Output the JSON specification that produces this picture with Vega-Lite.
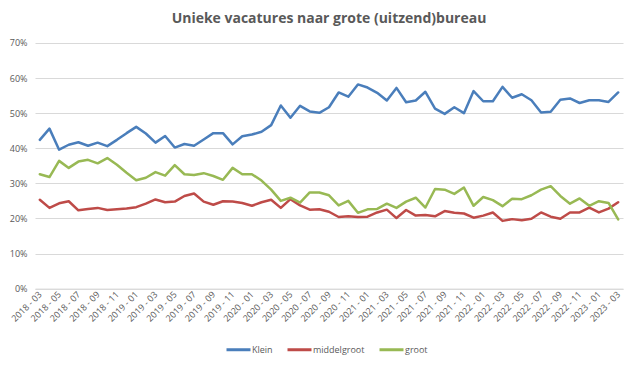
{
  "$schema": "https://vega.github.io/schema/vega-lite/v6.json",
  "autosize": "none",
  "width": 588,
  "height": 245.6,
  "padding": {"left": 35, "top": 43, "right": 17, "bottom": 76},
  "background": "white",
  "title": {"text": "Unieke vacatures naar grote (uitzend)bureau", "font": "Open Sans", "fontSize": 14, "fontWeight": "bold", "color": "#595959", "anchor": "middle", "offset": 13, "frame": "group"},
  "config": {"view": {"stroke": null}, "font": "Open Sans"},
  "data": {"values": [
{"m":"2018 - 03","s":"Klein","v":0.424},{"m":"2018 - 04","s":"Klein","v":0.456},{"m":"2018 - 05","s":"Klein","v":0.396},{"m":"2018 - 06","s":"Klein","v":0.410},{"m":"2018 - 07","s":"Klein","v":0.417},{"m":"2018 - 08","s":"Klein","v":0.407},{"m":"2018 - 09","s":"Klein","v":0.416},{"m":"2018 - 10","s":"Klein","v":0.406},{"m":"2018 - 11","s":"Klein","v":0.424},{"m":"2018 - 12","s":"Klein","v":0.443},
{"m":"2019 - 01","s":"Klein","v":0.461},{"m":"2019 - 02","s":"Klein","v":0.442},{"m":"2019 - 03","s":"Klein","v":0.416},{"m":"2019 - 04","s":"Klein","v":0.435},{"m":"2019 - 05","s":"Klein","v":0.402},{"m":"2019 - 06","s":"Klein","v":0.412},{"m":"2019 - 07","s":"Klein","v":0.407},{"m":"2019 - 08","s":"Klein","v":0.425},{"m":"2019 - 09","s":"Klein","v":0.443},{"m":"2019 - 10","s":"Klein","v":0.443},{"m":"2019 - 11","s":"Klein","v":0.411},{"m":"2019 - 12","s":"Klein","v":0.434},
{"m":"2020 - 01","s":"Klein","v":0.439},{"m":"2020 - 02","s":"Klein","v":0.447},{"m":"2020 - 03","s":"Klein","v":0.466},{"m":"2020 - 04","s":"Klein","v":0.522},{"m":"2020 - 05","s":"Klein","v":0.487},{"m":"2020 - 06","s":"Klein","v":0.521},{"m":"2020 - 07","s":"Klein","v":0.505},{"m":"2020 - 08","s":"Klein","v":0.501},{"m":"2020 - 09","s":"Klein","v":0.517},{"m":"2020 - 10","s":"Klein","v":0.559},{"m":"2020 - 11","s":"Klein","v":0.547},{"m":"2020 - 12","s":"Klein","v":0.582},
{"m":"2021 - 01","s":"Klein","v":0.573},{"m":"2021 - 02","s":"Klein","v":0.558},{"m":"2021 - 03","s":"Klein","v":0.536},{"m":"2021 - 04","s":"Klein","v":0.572},{"m":"2021 - 05","s":"Klein","v":0.531},{"m":"2021 - 06","s":"Klein","v":0.536},{"m":"2021 - 07","s":"Klein","v":0.561},{"m":"2021 - 08","s":"Klein","v":0.513},{"m":"2021 - 09","s":"Klein","v":0.498},{"m":"2021 - 10","s":"Klein","v":0.517},{"m":"2021 - 11","s":"Klein","v":0.500},{"m":"2021 - 12","s":"Klein","v":0.563},
{"m":"2022 - 01","s":"Klein","v":0.534},{"m":"2022 - 02","s":"Klein","v":0.534},{"m":"2022 - 03","s":"Klein","v":0.575},{"m":"2022 - 04","s":"Klein","v":0.544},{"m":"2022 - 05","s":"Klein","v":0.554},{"m":"2022 - 06","s":"Klein","v":0.537},{"m":"2022 - 07","s":"Klein","v":0.502},{"m":"2022 - 08","s":"Klein","v":0.504},{"m":"2022 - 09","s":"Klein","v":0.538},{"m":"2022 - 10","s":"Klein","v":0.542},{"m":"2022 - 11","s":"Klein","v":0.529},{"m":"2022 - 12","s":"Klein","v":0.537},
{"m":"2023 - 01","s":"Klein","v":0.537},{"m":"2023 - 02","s":"Klein","v":0.532},{"m":"2023 - 03","s":"Klein","v":0.559},
{"m":"2018 - 03","s":"middelgroot","v":0.253},{"m":"2018 - 04","s":"middelgroot","v":0.230},{"m":"2018 - 05","s":"middelgroot","v":0.243},{"m":"2018 - 06","s":"middelgroot","v":0.249},{"m":"2018 - 07","s":"middelgroot","v":0.223},{"m":"2018 - 08","s":"middelgroot","v":0.227},{"m":"2018 - 09","s":"middelgroot","v":0.230},{"m":"2018 - 10","s":"middelgroot","v":0.224},{"m":"2018 - 11","s":"middelgroot","v":0.226},{"m":"2018 - 12","s":"middelgroot","v":0.228},
{"m":"2019 - 01","s":"middelgroot","v":0.232},{"m":"2019 - 02","s":"middelgroot","v":0.242},{"m":"2019 - 03","s":"middelgroot","v":0.254},{"m":"2019 - 04","s":"middelgroot","v":0.246},{"m":"2019 - 05","s":"middelgroot","v":0.248},{"m":"2019 - 06","s":"middelgroot","v":0.264},{"m":"2019 - 07","s":"middelgroot","v":0.271},{"m":"2019 - 08","s":"middelgroot","v":0.248},{"m":"2019 - 09","s":"middelgroot","v":0.239},{"m":"2019 - 10","s":"middelgroot","v":0.249},{"m":"2019 - 11","s":"middelgroot","v":0.248},{"m":"2019 - 12","s":"middelgroot","v":0.244},
{"m":"2020 - 01","s":"middelgroot","v":0.236},{"m":"2020 - 02","s":"middelgroot","v":0.246},{"m":"2020 - 03","s":"middelgroot","v":0.253},{"m":"2020 - 04","s":"middelgroot","v":0.230},{"m":"2020 - 05","s":"middelgroot","v":0.255},{"m":"2020 - 06","s":"middelgroot","v":0.237},{"m":"2020 - 07","s":"middelgroot","v":0.225},{"m":"2020 - 08","s":"middelgroot","v":0.226},{"m":"2020 - 09","s":"middelgroot","v":0.219},{"m":"2020 - 10","s":"middelgroot","v":0.204},{"m":"2020 - 11","s":"middelgroot","v":0.206},{"m":"2020 - 12","s":"middelgroot","v":0.204},
{"m":"2021 - 01","s":"middelgroot","v":0.205},{"m":"2021 - 02","s":"middelgroot","v":0.217},{"m":"2021 - 03","s":"middelgroot","v":0.225},{"m":"2021 - 04","s":"middelgroot","v":0.201},{"m":"2021 - 05","s":"middelgroot","v":0.224},{"m":"2021 - 06","s":"middelgroot","v":0.208},{"m":"2021 - 07","s":"middelgroot","v":0.210},{"m":"2021 - 08","s":"middelgroot","v":0.206},{"m":"2021 - 09","s":"middelgroot","v":0.221},{"m":"2021 - 10","s":"middelgroot","v":0.216},{"m":"2021 - 11","s":"middelgroot","v":0.214},{"m":"2021 - 12","s":"middelgroot","v":0.202},
{"m":"2022 - 01","s":"middelgroot","v":0.208},{"m":"2022 - 02","s":"middelgroot","v":0.217},{"m":"2022 - 03","s":"middelgroot","v":0.193},{"m":"2022 - 04","s":"middelgroot","v":0.198},{"m":"2022 - 05","s":"middelgroot","v":0.195},{"m":"2022 - 06","s":"middelgroot","v":0.199},{"m":"2022 - 07","s":"middelgroot","v":0.217},{"m":"2022 - 08","s":"middelgroot","v":0.205},{"m":"2022 - 09","s":"middelgroot","v":0.199},{"m":"2022 - 10","s":"middelgroot","v":0.217},{"m":"2022 - 11","s":"middelgroot","v":0.217},{"m":"2022 - 12","s":"middelgroot","v":0.231},
{"m":"2023 - 01","s":"middelgroot","v":0.217},{"m":"2023 - 02","s":"middelgroot","v":0.228},{"m":"2023 - 03","s":"middelgroot","v":0.246},
{"m":"2018 - 03","s":"groot","v":0.326},{"m":"2018 - 04","s":"groot","v":0.318},{"m":"2018 - 05","s":"groot","v":0.364},{"m":"2018 - 06","s":"groot","v":0.344},{"m":"2018 - 07","s":"groot","v":0.362},{"m":"2018 - 08","s":"groot","v":0.367},{"m":"2018 - 09","s":"groot","v":0.357},{"m":"2018 - 10","s":"groot","v":0.372},{"m":"2018 - 11","s":"groot","v":0.353},{"m":"2018 - 12","s":"groot","v":0.330},
{"m":"2019 - 01","s":"groot","v":0.309},{"m":"2019 - 02","s":"groot","v":0.316},{"m":"2019 - 03","s":"groot","v":0.332},{"m":"2019 - 04","s":"groot","v":0.322},{"m":"2019 - 05","s":"groot","v":0.352},{"m":"2019 - 06","s":"groot","v":0.326},{"m":"2019 - 07","s":"groot","v":0.324},{"m":"2019 - 08","s":"groot","v":0.329},{"m":"2019 - 09","s":"groot","v":0.321},{"m":"2019 - 10","s":"groot","v":0.310},{"m":"2019 - 11","s":"groot","v":0.344},{"m":"2019 - 12","s":"groot","v":0.326},
{"m":"2020 - 01","s":"groot","v":0.326},{"m":"2020 - 02","s":"groot","v":0.308},{"m":"2020 - 03","s":"groot","v":0.282},{"m":"2020 - 04","s":"groot","v":0.250},{"m":"2020 - 05","s":"groot","v":0.259},{"m":"2020 - 06","s":"groot","v":0.245},{"m":"2020 - 07","s":"groot","v":0.274},{"m":"2020 - 08","s":"groot","v":0.274},{"m":"2020 - 09","s":"groot","v":0.266},{"m":"2020 - 10","s":"groot","v":0.237},{"m":"2020 - 11","s":"groot","v":0.250},{"m":"2020 - 12","s":"groot","v":0.216},
{"m":"2021 - 01","s":"groot","v":0.226},{"m":"2021 - 02","s":"groot","v":0.227},{"m":"2021 - 03","s":"groot","v":0.242},{"m":"2021 - 04","s":"groot","v":0.230},{"m":"2021 - 05","s":"groot","v":0.248},{"m":"2021 - 06","s":"groot","v":0.259},{"m":"2021 - 07","s":"groot","v":0.231},{"m":"2021 - 08","s":"groot","v":0.284},{"m":"2021 - 09","s":"groot","v":0.282},{"m":"2021 - 10","s":"groot","v":0.270},{"m":"2021 - 11","s":"groot","v":0.288},{"m":"2021 - 12","s":"groot","v":0.236},
{"m":"2022 - 01","s":"groot","v":0.261},{"m":"2022 - 02","s":"groot","v":0.252},{"m":"2022 - 03","s":"groot","v":0.235},{"m":"2022 - 04","s":"groot","v":0.256},{"m":"2022 - 05","s":"groot","v":0.255},{"m":"2022 - 06","s":"groot","v":0.266},{"m":"2022 - 07","s":"groot","v":0.282},{"m":"2022 - 08","s":"groot","v":0.292},{"m":"2022 - 09","s":"groot","v":0.264},{"m":"2022 - 10","s":"groot","v":0.242},{"m":"2022 - 11","s":"groot","v":0.257},{"m":"2022 - 12","s":"groot","v":0.236},
{"m":"2023 - 01","s":"groot","v":0.249},{"m":"2023 - 02","s":"groot","v":0.244},{"m":"2023 - 03","s":"groot","v":0.197}
  ]},
  "mark": {"type": "line", "strokeWidth": 2.5, "strokeCap": "round", "strokeJoin": "round"},
  "encoding": {
    "x": {"field": "m", "type": "ordinal", "title": null,
      "scale": {"type": "point", "padding": 0.5},
      "axis": {"values": ["2018 - 03","2018 - 05","2018 - 07","2018 - 09","2018 - 11","2019 - 01","2019 - 03","2019 - 05","2019 - 07","2019 - 09","2019 - 11","2020 - 01","2020 - 03","2020 - 05","2020 - 07","2020 - 09","2020 - 11","2021 - 01","2021 - 03","2021 - 05","2021 - 07","2021 - 09","2021 - 11","2022 - 01","2022 - 03","2022 - 05","2022 - 07","2022 - 09","2022 - 11","2023 - 01","2023 - 03"],
        "labelAngle": -45, "labelAlign": "right", "labelBaseline": "middle", "labelFontSize": 9, "labelColor": "#595959", "labelPadding": 4,
        "ticks": false, "domainColor": "#d9d9d9", "domainWidth": 1, "grid": false, "labelOverlap": false}},
    "y": {"field": "v", "type": "quantitative", "title": null,
      "scale": {"domain": [0, 0.7], "nice": false},
      "axis": {"format": ".0%", "values": [0,0.1,0.2,0.3,0.4,0.5,0.6,0.7], "labelFontSize": 9, "labelColor": "#595959", "labelPadding": 8, "ticks": false, "domain": false, "gridColor": "#d9d9d9", "gridWidth": 1}},
    "color": {"field": "s", "type": "nominal", "title": null,
      "scale": {"domain": ["Klein", "middelgroot", "groot"], "range": ["#4A7EBB", "#BE4B48", "#98B954"]},
      "legend": {"orient": "none", "direction": "horizontal", "legendX": 190, "legendY": 293, "symbolType": "stroke", "symbolStrokeWidth": 3, "symbolSize": 576, "labelFontSize": 9, "labelColor": "#595959", "columnPadding": 8, "labelOffset": 0}}
  }
}
